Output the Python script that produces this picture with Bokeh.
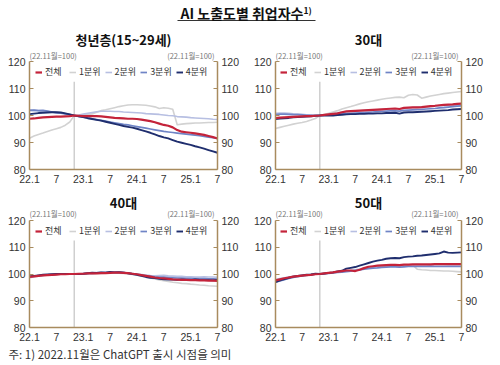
from bokeh.plotting import figure
from bokeh.models import Range1d, LinearAxis, Label, Legend, LegendItem, FixedTicker
from bokeh.layouts import column, row
from bokeh.embed import file_html
from bokeh.resources import INLINE

# ---------------- data ----------------
months = [f"{y}.{m}" for y in (22, 23, 24, 25) for m in range(1, 13)][:43]  # 22.1 .. 25.7
release_month = "22.11"
tick_months = ["22.1", "22.7", "23.1", "23.7", "24.1", "24.7", "25.1", "25.7"]
tick_labels = ["22.1", "7", "23.1", "7", "24.1", "7", "25.1", "7"]
y_ticks = [80, 90, 100, 110, 120]
series_names = ["전체", "1분위", "2분위", "3분위", "4분위"]
series_colors = ["#c4233a", "#d2d2d2", "#b7bfe2", "#6f84c6", "#1f2e6e"]
series_widths = [2.2, 1.6, 1.6, 1.7, 1.9]

# 청년층(15~29세)
youth_total = [98.8, 98.9, 99.1, 99.3, 99.4, 99.5, 99.6, 99.6, 99.7, 99.8, 100.0,
               99.9, 99.8, 99.8, 99.8, 99.8, 99.7, 99.5, 99.3, 99.1, 99.0,
               98.9, 98.8, 98.8, 98.7, 98.5, 98.2, 97.9, 97.5, 97.0, 96.5,
               96.2, 95.6, 94.6, 94.0, 93.8, 93.6, 93.4, 93.1, 92.8, 92.4, 92.0, 91.5]
youth_q1 = [91.6, 92.4, 93.0, 93.5, 94.1, 94.6, 95.1, 95.6, 96.4, 97.6, 100.0,
            100.1, 100.2, 100.4, 100.6, 101.2, 101.8, 102.1, 102.5, 102.9, 103.3,
            103.6, 103.9, 104.0, 104.0, 103.9, 103.8, 103.5, 103.2, 102.6, 102.9,
            102.7, 102.3, 96.6, 96.8, 97.0, 97.1, 97.2, 97.2, 97.3, 97.4, 97.4, 97.5]
youth_q2 = [102.0, 101.9, 101.8, 101.7, 101.6, 101.4, 101.2, 101.0, 100.7, 100.4, 100.0,
            100.2, 100.5, 100.8, 101.1, 101.4, 101.6, 101.6, 101.6, 101.5, 101.5,
            101.3, 101.2, 101.1, 101.0, 100.9, 100.7, 100.6, 100.5, 100.4, 100.2,
            100.0, 99.9, 99.6, 99.5, 99.4, 99.2, 99.1, 99.0, 98.9, 98.8, 98.6, 98.5]
youth_q3 = [101.9, 102.0, 101.8, 101.9, 101.6, 101.3, 101.0, 100.9, 100.6, 100.3, 100.0,
            99.7, 99.4, 99.1, 98.8, 98.5, 98.2, 97.9, 97.6, 97.3, 97.0,
            96.7, 96.5, 96.2, 95.9, 95.6, 95.3, 95.0, 94.7, 94.4, 94.1,
            93.9, 93.7, 93.5, 93.3, 93.1, 92.9, 92.7, 92.5, 92.3, 92.0, 91.8, 91.5]
youth_q4 = [100.5, 100.7, 100.9, 101.0, 101.1, 101.2, 101.2, 101.1, 100.8, 100.4, 100.0,
            99.7, 99.4, 99.0, 98.7, 98.4, 98.1, 97.7, 97.3, 96.9, 96.5,
            96.1, 95.8, 95.5, 95.1, 94.6, 94.1, 93.6, 93.0, 92.4, 91.9,
            91.5, 90.9, 90.3, 89.9, 89.5, 89.1, 88.6, 88.2, 87.7, 87.2, 86.7, 86.2]

# 30대
thirties_total = [99.0, 99.2, 99.3, 99.4, 99.5, 99.6, 99.7, 99.8, 99.8, 99.9, 100.0,
                  100.2, 100.4, 100.6, 100.8, 101.2, 101.5, 101.6, 101.7, 101.8, 101.9,
                  102.0, 102.1, 102.2, 102.3, 102.4, 102.5, 102.6, 102.4, 102.8, 102.9,
                  103.0, 103.0, 103.1, 103.3, 103.5, 103.6, 103.8, 103.9, 104.0, 104.1, 104.3, 104.4]
thirties_q1 = [95.2, 95.6, 96.0, 96.4, 96.8, 97.1, 97.4, 97.8, 98.3, 98.9, 100.0,
               100.4, 100.8, 101.3, 101.8, 102.4, 102.9, 103.3, 103.8, 104.3, 104.7,
               105.1, 105.4, 105.7, 106.0, 106.3, 106.5, 106.7, 106.8, 106.6, 107.5,
               107.8, 107.6, 106.4, 106.8, 107.2, 107.5, 107.8, 108.1, 108.3, 108.5, 108.7, 108.9]
thirties_q2 = [100.8, 100.9, 100.9, 100.8, 100.6, 100.5, 100.4, 100.3, 100.2, 100.1, 100.0,
               100.2, 100.4, 100.6, 100.9, 101.2, 101.4, 101.5, 101.6, 101.7, 101.8,
               101.9, 102.0, 102.1, 102.2, 102.3, 102.4, 102.5, 102.3, 102.7, 102.8,
               102.9, 103.0, 103.1, 103.2, 103.3, 103.4, 103.5, 103.6, 103.7, 103.8, 103.9, 104.0]
thirties_q3 = [100.3, 100.5, 100.5, 100.4, 100.3, 100.3, 100.2, 100.1, 100.1, 100.0, 100.0,
               100.1, 100.2, 100.3, 100.4, 100.6, 100.7, 100.8, 100.9, 101.0, 101.1,
               101.2, 101.3, 101.4, 101.5, 101.6, 101.7, 101.7, 101.6, 101.9, 102.0,
               102.1, 102.2, 102.3, 102.4, 102.5, 102.6, 102.8, 102.9, 103.1, 103.3, 103.5, 103.6]
thirties_q4 = [98.7, 98.9, 99.0, 99.1, 99.3, 99.4, 99.5, 99.6, 99.7, 99.9, 100.0,
               100.0, 100.1, 100.0, 100.2, 100.3, 100.4, 100.5, 100.5, 100.6, 100.6,
               100.7, 100.7, 100.8, 100.8, 100.9, 100.9, 101.0, 100.7, 101.1, 101.2,
               101.2, 101.3, 101.4, 101.5, 101.6, 101.7, 101.8, 101.9, 102.0, 102.2, 102.3, 102.4]

# 40대
forties_total = [98.9, 99.1, 99.3, 99.5, 99.6, 99.7, 99.8, 99.9, 99.9, 100.0, 100.0,
                 100.1, 100.1, 100.2, 100.2, 100.2, 100.3, 100.3, 100.4, 100.5, 100.5,
                 100.4, 100.3, 100.1, 99.9, 99.6, 99.3, 99.0, 98.7, 98.5, 98.4,
                 98.2, 98.0, 97.9, 97.8, 97.8, 97.7, 97.7, 97.6, 97.6, 97.5, 97.5, 97.4]
forties_q1 = [98.6, 98.9, 99.2, 99.4, 99.6, 99.7, 99.8, 99.9, 99.9, 100.0, 100.0,
              100.0, 100.1, 100.1, 100.1, 100.2, 100.2, 100.3, 100.3, 100.4, 100.3,
              100.2, 100.0, 99.8, 99.5, 99.2, 98.9, 98.5, 98.1, 97.8, 97.5,
              97.2, 96.9, 96.7, 96.5, 96.4, 96.2, 96.1, 95.9, 95.8, 95.6, 95.5, 95.4]
forties_q2 = [98.8, 99.1, 99.3, 99.5, 99.7, 99.8, 99.8, 99.9, 100.0, 100.0, 100.0,
              100.1, 100.2, 100.3, 100.4, 100.5, 100.6, 100.7, 100.8, 100.8, 100.7,
              100.6, 100.4, 100.2, 100.0, 99.8, 99.6, 99.4, 99.3, 99.4, 99.5,
              99.3, 99.2, 99.1, 99.1, 99.0, 99.0, 98.9, 98.9, 99.0, 98.9, 98.9, 98.8]
forties_q3 = [99.0, 99.2, 99.4, 99.6, 99.7, 99.8, 99.9, 99.9, 100.0, 100.0, 100.0,
              100.1, 100.1, 100.2, 100.2, 100.3, 100.4, 100.4, 100.5, 100.6, 100.6,
              100.5, 100.3, 100.1, 99.9, 99.6, 99.3, 99.1, 98.9, 98.8, 98.8,
              98.7, 98.6, 98.5, 98.5, 98.4, 98.4, 98.3, 98.3, 98.3, 98.2, 98.2, 98.1]
forties_q4 = [99.1, 99.3, 99.5, 99.7, 99.8, 99.9, 100.0, 100.0, 100.0, 100.0, 100.0,
              100.0, 100.1, 100.3, 100.5, 100.4, 100.6, 100.5, 100.8, 100.6, 100.7,
              100.5, 100.3, 100.0, 99.7, 99.3, 98.9, 98.6, 98.5, 98.2, 98.0,
              97.9, 97.9, 97.8, 98.0, 97.8, 97.7, 98.0, 97.8, 97.7, 97.7, 97.6, 97.8]

# 50대
fifties_total = [97.6, 98.0, 98.4, 98.7, 99.0, 99.2, 99.4, 99.6, 99.7, 99.9, 100.0,
                 100.2, 100.4, 100.6, 100.9, 101.1, 101.3, 101.3, 101.1, 101.6, 102.2,
                 102.7, 102.9, 103.1, 103.2, 103.3, 103.4, 103.4, 103.3, 103.5, 103.5,
                 103.6, 103.6, 103.6, 103.6, 103.6, 103.7, 103.7, 103.7, 103.7, 103.7, 103.7, 103.7]
fifties_q1 = [97.0, 97.5, 98.0, 98.4, 98.8, 99.1, 99.3, 99.5, 99.7, 99.9, 100.0,
              100.1, 100.3, 100.5, 100.7, 100.9, 101.1, 101.3, 101.5, 101.8, 102.1,
              102.4, 102.6, 102.8, 103.0, 103.1, 103.2, 103.3, 103.2, 103.3, 103.4,
              103.3, 101.8, 101.6, 101.5, 101.3, 101.3, 101.2, 101.1, 101.1, 101.0, 100.9, 100.8]
fifties_q2 = [97.9, 98.3, 98.6, 98.9, 99.1, 99.3, 99.5, 99.6, 99.8, 99.9, 100.0,
              100.1, 100.3, 100.5, 100.7, 100.9, 101.1, 101.3, 101.6, 101.9, 102.2,
              102.5, 102.7, 102.9, 103.0, 103.1, 103.2, 103.2, 103.1, 103.3, 103.4,
              103.4, 103.5, 103.4, 103.4, 103.4, 103.5, 103.5, 103.5, 103.4, 103.4, 103.4, 103.4]
fifties_q3 = [96.9, 97.4, 97.9, 98.3, 98.7, 99.0, 99.3, 99.5, 99.7, 99.9, 100.0,
              100.1, 100.2, 100.4, 100.6, 100.7, 100.9, 101.1, 101.3, 101.5, 101.8,
              102.0, 102.2, 102.3, 102.5, 102.6, 102.7, 102.7, 102.6, 102.7, 102.8,
              102.8, 102.8, 102.8, 102.8, 102.9, 102.8, 102.8, 102.8, 102.8, 102.8, 102.8, 102.8]
fifties_q4 = [97.0, 97.6, 98.1, 98.6, 99.0, 99.3, 99.5, 99.7, 99.8, 100.1, 100.0,
              100.2, 100.4, 100.6, 101.0, 101.2, 102.0, 102.3, 102.6, 103.1, 103.6,
              104.1, 104.6, 105.0, 105.3, 105.7, 105.9, 106.0, 105.9, 106.3, 106.5,
              106.6, 106.8, 106.9, 107.1, 107.3, 107.5, 107.7, 108.4, 108.0, 107.9, 108.0, 108.1]

main_title = "AI 노출도별 취업자수"
main_title_sup = "1)"
panel_titles = ["청년층(15~29세)", "30대", "40대", "50대"]
base_note = "(22.11월=100)"
footnote = "주: 1) 2022.11월은 ChatGPT 출시 시점을 의미"

# ---------------- styling ----------------
KR = "Noto Sans CJK KR"
NUM = "'Liberation Sans Narrow', 'Liberation Sans', sans-serif"
AXIS_COLOR = "#a88b5e"
TEXT_COLOR = "#333333"
LEGEND_TOP = 112.5  # reference line stops below the legend band
LEGEND_H = 10

x = list(range(len(months)))


def make_panel(title, series, width, left, right, frame_h, px_per_10, bottom,
               title_off, note_off, legend_x, legend_top):
    unit = px_per_10 / 10.0
    y_top = y_ticks[0] + frame_h / unit
    p = figure(width=width, height=frame_h + bottom,
               x_range=Range1d(0, len(months) - 1), y_range=Range1d(y_ticks[0], y_top),
               output_backend="svg", toolbar_location=None,
               min_border_left=left, min_border_right=right,
               min_border_top=0, min_border_bottom=bottom)
    p.outline_line_color = None
    p.grid.visible = False
    p.add_layout(LinearAxis(), "right")

    for ax in p.yaxis:
        ax.ticker = FixedTicker(ticks=y_ticks)
        ax.bounds = (y_ticks[0], y_ticks[-1])
        ax.axis_line_color = AXIS_COLOR
        ax.axis_line_width = 1.5
        ax.major_tick_line_color = AXIS_COLOR
        ax.major_tick_line_width = 1.2
        ax.major_tick_in = 4
        ax.major_tick_out = 0
        ax.minor_tick_line_color = None
        ax.minor_tick_in = 0
        ax.minor_tick_out = 0
        ax.major_label_standoff = 4
        ax.major_label_text_font = NUM
        ax.major_label_text_font_size = "10.5px"
        ax.major_label_text_color = TEXT_COLOR

    xa = p.xaxis[0]
    tick_idx = [months.index(m) for m in tick_months]
    xa.ticker = FixedTicker(ticks=tick_idx)
    xa.major_label_overrides = {i: lab for i, lab in zip(tick_idx, tick_labels)}
    xa.axis_line_color = AXIS_COLOR
    xa.axis_line_width = 1.5
    xa.major_tick_line_color = None
    xa.major_tick_in = 0
    xa.major_tick_out = 0
    xa.minor_tick_line_color = None
    xa.minor_tick_in = 0
    xa.minor_tick_out = 0
    xa.major_label_standoff = 5
    xa.major_label_text_font = NUM
    xa.major_label_text_font_size = "10.5px"
    xa.major_label_text_color = TEXT_COLOR

    rel = months.index(release_month)
    p.segment(x0=[rel], y0=[y_ticks[0]], x1=[rel], y1=[LEGEND_TOP],
              line_color="#cfcfcf", line_width=1.5)

    rends = [None] * 5
    for i in [1, 2, 3, 4, 0]:
        rends[i] = p.line(x, series[i], line_color=series_colors[i],
                          line_width=series_widths[i], line_join="round")

    legend = Legend(items=[LegendItem(label=series_names[i], renderers=[rends[i]]) for i in range(5)],
                    orientation="horizontal",
                    location=(legend_x, frame_h - legend_top - LEGEND_H),
                    margin=0, padding=0,
                    spacing=4, glyph_width=7, glyph_height=LEGEND_H, label_height=LEGEND_H,
                    label_standoff=3, label_text_font=KR, label_text_font_size="9px",
                    label_text_color=TEXT_COLOR, border_line_color=None,
                    background_fill_alpha=0)
    p.add_layout(legend)

    mid = (len(months) - 1) / 2
    top_v = y_ticks[-1]
    p.add_layout(Label(x=mid, y=top_v + title_off / unit, text=title,
                       text_align="center", text_baseline="middle", text_font=KR,
                       text_font_size="13px", text_font_style="bold", text_color="#111111"))
    p.add_layout(Label(x=0, y=top_v + note_off / unit, text=base_note,
                       text_align="left", text_baseline="middle", text_font=KR,
                       text_font_size="7.5px", text_color="#777777"))
    p.add_layout(Label(x=len(months) - 1, y=top_v + note_off / unit, x_offset=-3,
                       text=base_note, text_align="right", text_baseline="middle", text_font=KR,
                       text_font_size="7.5px", text_color="#777777"))
    return p


# top row: frame 26..169 (120 at 61), bottom row: frame 190..327 (120 at 220)
p1 = make_panel(panel_titles[0], [youth_total, youth_q1, youth_q2, youth_q3, youth_q4],
                250, 29, 33, 143, 27.0, 21, 22, 6, 6, 42)
p2 = make_panel(panel_titles[1], [thirties_total, thirties_q1, thirties_q2, thirties_q3, thirties_q4],
                250, 23, 39, 143, 27.0, 21, 22, 6, 5, 42)
p3 = make_panel(panel_titles[2], [forties_total, forties_q1, forties_q2, forties_q3, forties_q4],
                250, 29, 33, 137, 26.75, 17, 18, 7, 6, 37)
p4 = make_panel(panel_titles[3], [fifties_total, fifties_q1, fifties_q2, fifties_q3, fifties_q4],
                250, 23, 39, 137, 26.75, 17, 18, 7, 5, 37)

# title
tf = figure(width=500, height=26, x_range=Range1d(0, 500), y_range=Range1d(26, 0),
            output_backend="svg", toolbar_location=None, min_border=0,
            x_axis_type=None, y_axis_type=None)
tf.outline_line_color = None
tf.grid.visible = False
tf.add_layout(Label(x=180, y=12.5, text=main_title, text_align="left", text_baseline="middle",
                    text_font=KR, text_font_size="14px", text_font_style="bold",
                    text_color="#111111"))
tf.add_layout(Label(x=303, y=9, text=main_title_sup, text_align="left", text_baseline="middle",
                    text_font=KR, text_font_size="8.5px", text_font_style="bold",
                    text_color="#111111"))
tf.segment(x0=[177], y0=[20], x1=[315], y1=[20], line_color="#333333", line_width=1)

# footnote
ff = figure(width=500, height=21, x_range=Range1d(0, 500), y_range=Range1d(21, 0),
            output_backend="svg", toolbar_location=None, min_border=0,
            x_axis_type=None, y_axis_type=None)
ff.outline_line_color = None
ff.grid.visible = False
ff.add_layout(Label(x=8, y=9, text=footnote, text_align="left", text_baseline="middle",
                    text_font=KR, text_font_size="11.5px", text_color=TEXT_COLOR))

layout = column(tf, row(p1, p2), row(p3, p4), ff)
open("out.html", "w").write(file_html(layout, INLINE))
